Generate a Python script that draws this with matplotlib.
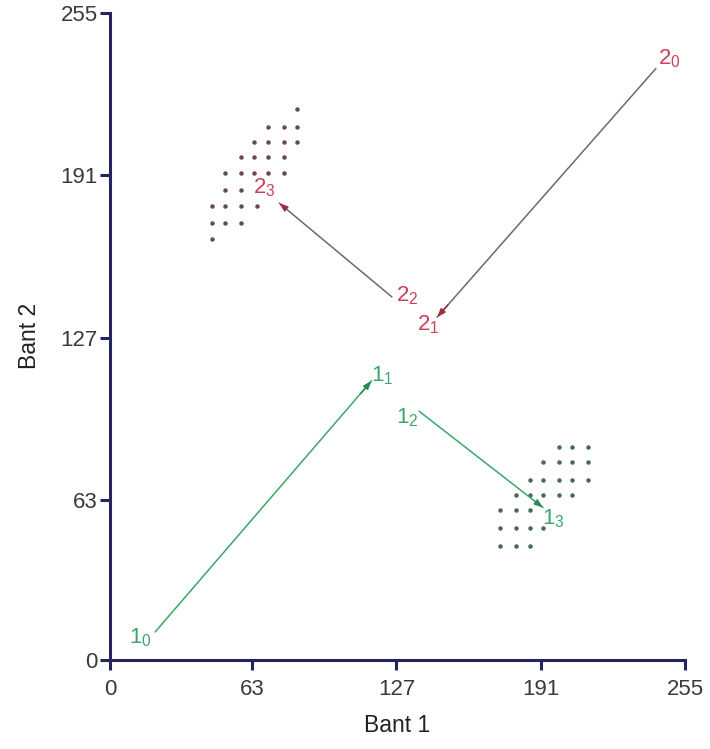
import matplotlib.pyplot as plt

plt.rcParams['font.family'] = ['Liberation Sans', 'DejaVu Sans']

# cluster centres visited by the two paths (Bant 1, Bant 2)
path1_x = [20, 116, 137, 192]
path1_y = [11, 110, 98, 60]
path2_x = [242, 145, 125, 75]
path2_y = [233, 135, 143, 180]

# pixel clusters
cl2_x = [83, 70, 77, 83, 64, 70, 77, 83, 58, 64, 70, 77, 51, 58, 64, 70, 77,
         51, 58, 45, 51, 58, 65, 45, 51, 58, 45]
cl2_y = [217, 210, 210, 210, 204, 204, 204, 204, 198, 198, 198, 198, 192, 192, 192, 192, 192,
         185, 185, 179, 179, 179, 179, 172, 172, 172, 166]
cl1_x = [199, 205, 212, 192, 199, 205, 212, 186, 192, 199, 205, 212, 180, 186, 192, 199, 205,
         173, 180, 186, 173, 180, 186, 192, 173, 180, 186]
cl1_y = [84, 84, 84, 78, 78, 78, 78, 71, 71, 71, 71, 71, 65, 65, 65, 65, 65,
         59, 59, 59, 52, 52, 52, 52, 45, 45, 45]

ticks = [0, 63, 127, 191, 255]

navy = '#25255e'
red = '#cc4058'
green = '#3aa66a'

fig = plt.figure(figsize=(7.1, 7.49), dpi=100)
ax = fig.add_axes([0.155, 0.119, 0.81, 0.864])
ax.set_xlim(0, 255)
ax.set_ylim(0, 255)

ax.scatter(cl2_x, cl2_y, s=5, color='#6a4a50', zorder=2)
ax.scatter(cl1_x, cl1_y, s=5, color='#4a6a58', zorder=2)


def arrow(x0, y0, x1, y1, lc, hc):
    ax.annotate('', xy=(x1, y1), xytext=(x0, y0),
                arrowprops=dict(arrowstyle='-', color=lc, lw=1.1, shrinkA=0, shrinkB=0))
    ax.annotate('', xy=(x1, y1), xytext=(x1 - (x1 - x0) * 0.05, y1 - (y1 - y0) * 0.05),
                arrowprops=dict(arrowstyle='-|>,head_length=0.5,head_width=0.18',
                                color=hc, lw=1.1, shrinkA=0, shrinkB=0))


arrow(path1_x[0], path1_y[0], path1_x[1], path1_y[1], green, '#2a8a50')
arrow(path1_x[2], path1_y[2], path1_x[3], path1_y[3], green, '#2a8a50')
arrow(path2_x[0], path2_y[0], path2_x[1], path2_y[1], '#6a6a6a', '#a03040')
arrow(path2_x[2], path2_y[2], path2_x[3], path2_y[3], '#6a6a6a', '#a03040')

offs1 = [(-15, -6), (11, 5), (-12, -7), (10, -11)]
offs2 = [(13, 10), (-9, -7), (15, 1), (-15, 15)]
for i in range(4):
    ax.annotate(r'$\mathregular{1_%d}$' % i, (path1_x[i], path1_y[i]), xytext=offs1[i],
                textcoords='offset pixels', ha='center', va='center',
                color=green, fontsize=16)
    ax.annotate(r'$\mathregular{2_%d}$' % i, (path2_x[i], path2_y[i]), xytext=offs2[i],
                textcoords='offset pixels', ha='center', va='center',
                color=red, fontsize=16)

for s in ['top', 'right']:
    ax.spines[s].set_visible(False)
for s in ['left', 'bottom']:
    ax.spines[s].set_color(navy)
    ax.spines[s].set_linewidth(2.2)
ax.set_xticks(ticks)
ax.set_yticks(ticks)
ax.tick_params(color=navy, width=2.2, length=7, labelsize=16, labelcolor='#3a3a3a', pad=2)
ax.tick_params(axis='x', pad=7)
ax.set_xlabel('Bant 1', fontsize=16.5, color='#222222', labelpad=10)
ax.set_ylabel('Bant 2', fontsize=16.5, color='#222222', labelpad=14)

fig.savefig('out.png')
